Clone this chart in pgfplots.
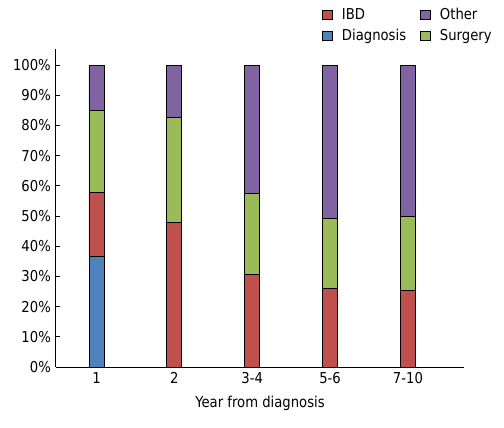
\documentclass[border=0pt]{standalone}
\usepackage{fontspec}
\setmainfont{DejaVu Sans}[FakeStretch=0.88]
\usepackage{pgfplots}
\pgfplotsset{compat=1.18}
\definecolor{cIBD}{HTML}{C0504D}
\definecolor{cDia}{HTML}{4F81BD}
\definecolor{cSur}{HTML}{9BBB59}
\definecolor{cOth}{HTML}{8064A2}
\begin{document}
\fontsize{15bp}{18bp}\selectfont
\begin{tikzpicture}
\useasboundingbox (-56bp,-61bp) rectangle (448bp,367bp);
\begin{axis}[
  scale only axis,
  width=408bp, height=318bp,
  at={(0,0)}, anchor=south west,
  axis lines=left,
  axis line style={-, line width=1bp},
  ybar stacked,
  bar width=15bp,
  xmin=-0.52, xmax=4.72,
  ymin=0, ymax=105.3,
  xtick={0,1,2,3,4},
  xticklabels={1,2,3-4,5-6,7-10},
  minor xtick={0.5,1.5,2.5,3.5,4.5},
  xtick style={draw=none},
  minor x tick style={black, line width=1bp},
  minor tick length=6bp,
  ytick={0,10,...,100},
  ytick style={black, line width=1bp},
  major tick length=4bp,
  tick align=inside,
  xtick pos=bottom, ytick pos=left,
  yticklabel={\pgfmathprintnumber{\tick}\%},
  /pgf/number format/assume math mode=true,
  xlabel={Year from diagnosis},
  xlabel style={yshift=-2bp},
  legend columns=2,
  legend cell align=left,
  legend style={draw=none, fill=none, inner sep=0pt,
    at={(266bp,322bp)}, anchor=south west,
    /tikz/every even column/.append style={column sep=12bp},
    /tikz/every odd column/.append style={column sep=7bp},
    row sep=3bp},
  legend image code/.code={\draw[#1, draw=black, line width=0.8bp] (0bp,-4.5bp) rectangle (10bp,4.5bp);},
  legend entries={IBD,Other,Diagnosis,Surgery},
]
\addlegendimage{fill=cIBD}
\addlegendimage{fill=cOth}
\addlegendimage{fill=cDia}
\addlegendimage{fill=cSur}
\addplot[fill=cDia, draw=black, line width=0.8bp] coordinates {(0,36.5) (1,0) (2,0) (3,0) (4,0)};
\addplot[fill=cIBD, draw=black, line width=0.8bp] coordinates {(0,21.4) (1,48.0) (2,30.6) (3,26.0) (4,25.3)};
\addplot[fill=cSur, draw=black, line width=0.8bp] coordinates {(0,27.2) (1,34.5) (2,27.0) (3,23.1) (4,24.5)};
\addplot[fill=cOth, draw=black, line width=0.8bp] coordinates {(0,14.9) (1,17.5) (2,42.4) (3,50.9) (4,50.2)};
\end{axis}
\end{tikzpicture}
\end{document}
